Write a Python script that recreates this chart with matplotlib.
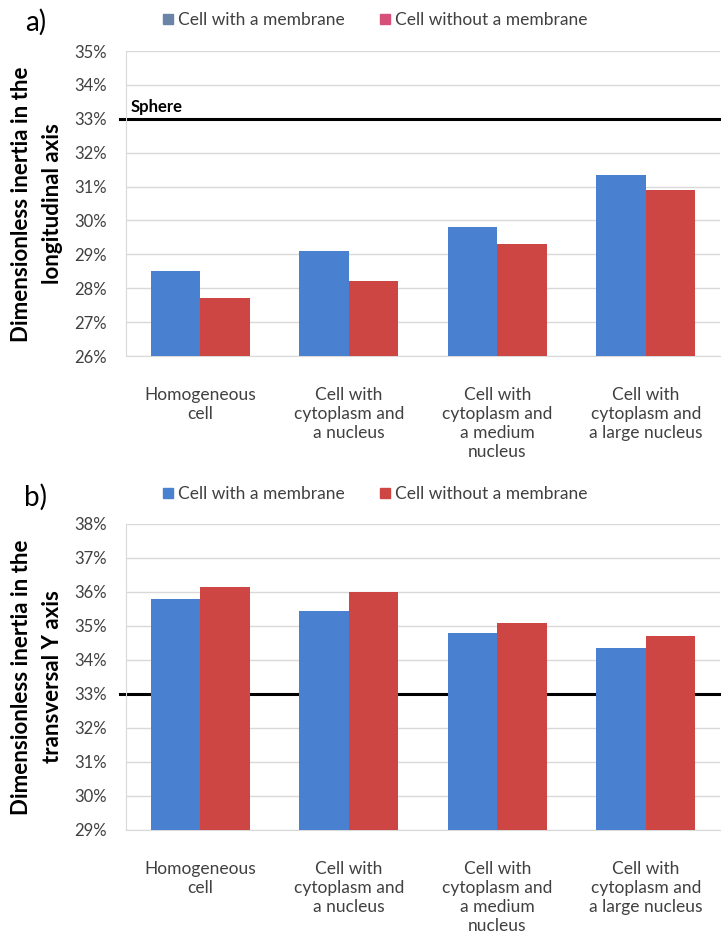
import numpy as np
import matplotlib
matplotlib.use('Agg')
import matplotlib.pyplot as plt
from matplotlib.lines import Line2D

plt.rcParams['font.family'] = ['Lato', 'DejaVu Sans']

categories = ['Homogeneous\ncell',
              'Cell with\ncytoplasm and\na nucleus',
              'Cell with\ncytoplasm and\na medium\nnucleus',
              'Cell with\ncytoplasm and\na large nucleus']
series_names = ['Cell with a membrane', 'Cell without a membrane']

# dimensionless inertia, in percent
longitudinal_membrane = [28.5, 29.1, 29.8, 31.35]
longitudinal_no_membrane = [27.7, 28.2, 29.3, 30.9]
transversal_membrane = [35.8, 35.45, 34.8, 34.35]
transversal_no_membrane = [36.15, 36.0, 35.1, 34.7]

sphere_value = 33
a_ticks = list(range(26, 36))
b_ticks = list(range(29, 39))

blue = '#4A80D0'
red = '#CE4644'
grid_col = '#D9D9D9'
text_col = '#404040'

W, H = 721, 946
fig = plt.figure(figsize=(W / 100, H / 100), dpi=100)


def px_box(left, right, top, bottom):
    return [left / W, 1 - bottom / H, (right - left) / W, (bottom - top) / H]


def draw_panel(ax, vals_a, vals_b, ticks, sphere_label):
    x = np.arange(len(categories))
    bw = 1 / 3
    ax.bar(x - bw / 2, vals_a, bw, color=blue, zorder=3)
    ax.bar(x + bw / 2, vals_b, bw, color=red, zorder=3)
    ax.set_xlim(-0.5, len(categories) - 0.5)
    ax.set_ylim(ticks[0], ticks[-1])
    ax.set_yticks(ticks)
    ax.set_yticklabels([f'{t}%' for t in ticks], fontsize=12, color=text_col)
    ax.set_xticks(x)
    ax.set_xticklabels(categories, fontsize=12.5, color=text_col, linespacing=1.25)
    ax.tick_params(axis='both', length=0)
    ax.tick_params(axis='y', pad=14)
    ax.tick_params(axis='x', pad=22)
    ax.yaxis.grid(True, color=grid_col, linewidth=1, zorder=0)
    ax.set_axisbelow(True)
    for side in ['top', 'right']:
        ax.spines[side].set_visible(False)
    ax.spines['left'].set_color(grid_col)
    ax.spines['bottom'].set_color(grid_col)
    # reference line for a sphere
    trans = ax.get_yaxis_transform()
    ax.plot([-0.01, 1.0], [sphere_value, sphere_value], color='black', lw=2.2,
            transform=trans, clip_on=False, zorder=2.5)
    if sphere_label:
        ax.text(0.007, sphere_value + 0.12, 'Sphere', transform=trans,
                fontsize=12, fontweight='bold', va='bottom', ha='left')


ax_a = fig.add_axes(px_box(126, 720, 51, 356))
draw_panel(ax_a, longitudinal_membrane, longitudinal_no_membrane, a_ticks, True)
ax_b = fig.add_axes(px_box(126, 720, 524, 830))
draw_panel(ax_b, transversal_membrane, transversal_no_membrane, b_ticks, False)

ylabel_kw = dict(rotation=90, ha='center', va='center', fontsize=16,
                 fontweight='bold')
fig.text(22 / W, 1 - 204 / H, 'Dimensionless inertia in the', **ylabel_kw)
fig.text(53 / W, 1 - 204 / H, 'longitudinal axis', **ylabel_kw)
fig.text(22 / W, 1 - 677 / H, 'Dimensionless inertia in the', **ylabel_kw)
fig.text(53 / W, 1 - 677 / H, 'transversal Y axis', **ylabel_kw)

fig.text(36 / W, 1 - 22 / H, 'a)', ha='center', va='center', fontsize=20)
fig.text(36 / W, 1 - 497 / H, 'b)', ha='center', va='center', fontsize=20)


def legend_at(y_px, colors):
    handles = [Line2D([], [], marker='s', linestyle='none', markersize=7,
                      color=c) for c in colors]
    fig.legend(handles, series_names, loc='center',
               bbox_to_anchor=(375 / W, 1 - y_px / H), ncol=2, frameon=False,
               fontsize=12.5, handlelength=0.6, handletextpad=0.3,
               columnspacing=2.0, labelcolor=text_col)


legend_at(20, ['#6A84A8', '#D6507A'])
legend_at(494, [blue, red])

fig.savefig('out.png', dpi=100)
